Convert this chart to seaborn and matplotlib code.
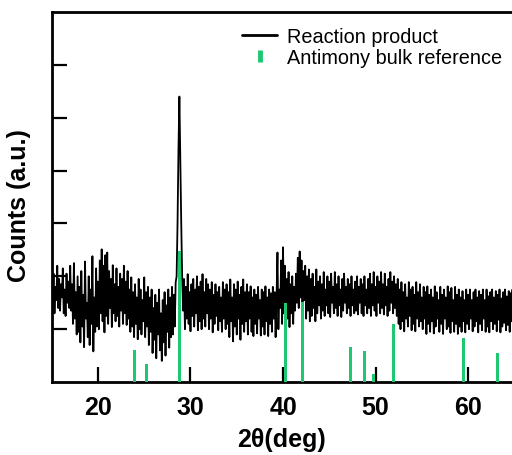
import numpy as np
import pandas as pd
import matplotlib
matplotlib.use("Agg")
import matplotlib.pyplot as plt
from matplotlib.lines import Line2D
import seaborn as sns

# ---------------- data ----------------
two_theta_start = 15.0
two_theta_step = 0.1
counts = [
    1.90, 1.45, 2.05, 1.30, 1.80, 1.55, 2.20, 1.40, 1.95, 1.35,   # 15
    1.85, 1.60, 2.15, 1.30, 1.75, 1.25, 2.05, 1.50, 1.90, 1.40,   # 16
    2.20, 1.35, 1.85, 1.10, 2.25, 1.20, 1.70, 0.90, 2.00, 0.95,   # 17
    1.80, 0.75, 2.10, 1.05, 1.65, 0.66, 2.28, 1.20, 1.50, 0.85,   # 18
    2.00, 0.70, 1.75, 1.10, 2.38, 0.58, 1.60, 0.95, 2.15, 1.05,   # 19
    1.90, 1.00, 2.30, 1.30, 2.51, 1.15, 2.20, 0.94, 2.40, 1.25,   # 20
    2.45, 1.10, 2.10, 1.40, 1.95, 1.04, 2.21, 1.30, 1.85, 1.15,   # 21
    2.15, 1.25, 1.80, 1.05, 2.05, 1.35, 1.95, 1.10, 2.20, 1.30,   # 22
    1.90, 1.08, 2.10, 1.20, 1.75, 0.95, 1.98, 1.05, 1.70, 0.85,   # 23
    1.85, 1.10, 1.60, 0.81, 1.95, 1.00, 1.75, 0.90, 1.55, 1.15,   # 24
    1.98, 0.85, 1.70, 1.05, 1.80, 0.70, 1.60, 0.95, 1.75, 0.55,   # 25
    1.40, 0.80, 1.65, 0.45, 1.50, 0.90, 1.75, 0.60, 1.30, 0.40,   # 26
    1.55, 0.75, 1.70, 0.50, 1.45, 0.95, 1.75, 0.65, 1.60, 0.85,   # 27
    1.80, 0.90, 1.65, 1.05, 1.89, 2.00, 3.00, 4.40, 5.40, 4.20,   # 28
    3.00, 2.00, 1.35, 1.95, 1.00, 1.80, 1.20, 2.04, 1.10, 1.70,   # 29
    0.96, 1.85, 1.25, 1.95, 1.05, 1.75, 1.30, 2.00, 0.98, 1.80,   # 30
    1.15, 1.90, 1.00, 2.04, 1.20, 1.70, 1.05, 1.95, 1.30, 1.85,   # 31
    1.00, 1.75, 1.20, 1.89, 0.94, 1.65, 1.10, 1.85, 1.25, 1.70,   # 32
    0.98, 1.80, 1.15, 1.60, 0.95, 1.89, 1.20, 1.75, 1.00, 1.85,   # 33
    1.10, 1.70, 0.85, 1.94, 1.15, 1.60, 0.77, 1.85, 1.05, 1.75,   # 34
    0.90, 1.90, 1.20, 1.65, 0.80, 1.80, 1.10, 1.94, 0.95, 1.70,   # 35
    1.15, 1.85, 0.90, 1.70, 1.20, 1.81, 0.95, 1.60, 0.87, 1.75,   # 36
    1.10, 1.65, 0.92, 1.80, 1.20, 1.55, 0.88, 1.75, 1.05, 1.70,   # 37
    0.90, 1.81, 1.15, 1.60, 0.87, 1.75, 1.10, 1.68, 0.95, 1.80,   # 38
    1.20, 1.70, 0.85, 1.60, 2.45, 1.00, 1.75, 1.40, 2.30, 1.10,   # 39
    2.55, 1.30, 2.20, 1.00, 1.95, 1.20, 2.08, 1.04, 1.85, 1.30,   # 40
    2.00, 1.10, 1.80, 1.35, 2.05, 1.50, 2.35, 1.40, 2.47, 1.60,   # 41
    2.30, 1.38, 2.10, 1.55, 2.20, 1.20, 2.00, 1.35, 2.13, 1.15,   # 42
    1.95, 1.25, 2.05, 1.40, 1.80, 1.15, 2.13, 1.30, 1.90, 1.45,   # 43
    2.00, 1.20, 1.85, 1.35, 2.08, 1.25, 1.75, 1.45, 2.00, 1.30,   # 44
    1.90, 1.23, 2.05, 1.50, 1.80, 1.30, 2.08, 1.40, 1.85, 1.25,   # 45
    2.00, 1.45, 1.75, 1.23, 1.95, 1.35, 2.05, 1.50, 1.80, 1.30,   # 46
    1.95, 1.40, 1.85, 1.25, 2.00, 1.45, 1.75, 1.30, 1.90, 1.35,   # 47
    2.00, 1.28, 1.80, 1.50, 1.95, 1.30, 1.85, 1.25, 2.00, 1.45,   # 48
    1.75, 1.30, 1.95, 1.40, 2.05, 1.25, 1.85, 1.45, 2.08, 1.35,   # 49
    1.80, 1.25, 2.00, 1.50, 1.90, 1.30, 2.08, 1.40, 1.85, 1.28,   # 50
    2.05, 1.45, 1.80, 1.25, 1.95, 1.35, 2.08, 1.50, 1.90, 1.30,   # 51
    2.00, 1.40, 1.85, 1.25, 1.95, 1.10, 1.75, 1.00, 1.89, 1.15,   # 52
    1.70, 0.96, 1.85, 1.20, 1.60, 1.05, 1.89, 1.25, 1.75, 0.98,   # 53
    1.80, 1.10, 1.65, 0.96, 1.89, 1.20, 1.70, 1.05, 1.85, 1.15,   # 54
    1.60, 1.00, 1.80, 1.20, 1.70, 0.91, 1.81, 1.10, 1.65, 0.95,   # 55
    1.75, 1.15, 1.60, 0.92, 1.81, 1.05, 1.70, 1.20, 1.55, 0.95,   # 56
    1.80, 1.10, 1.65, 0.91, 1.75, 1.20, 1.60, 1.00, 1.81, 1.05,   # 57
    1.70, 0.93, 1.78, 1.15, 1.55, 0.95, 1.80, 1.10, 1.65, 0.91,   # 58
    1.75, 1.05, 1.60, 0.95, 1.72, 1.15, 1.55, 0.94, 1.75, 1.10,   # 59
    1.65, 1.00, 1.75, 1.20, 1.55, 0.96, 1.70, 1.05, 1.75, 1.15,   # 60
    1.60, 0.94, 1.72, 1.10, 1.65, 0.98, 1.75, 1.20, 1.55, 0.95,   # 61
    1.75, 1.05, 1.62, 0.94, 1.70, 1.15, 1.75, 1.00, 1.60, 1.10,   # 62
    1.72, 0.96, 1.65, 1.18, 1.75, 0.94, 1.58, 1.05, 1.70, 1.12,   # 63
    1.75, 0.98, 1.62, 1.08, 1.72, 0.95, 1.68, 1.15, 1.75, 1.00,   # 64
]
two_theta = two_theta_start + two_theta_step * np.arange(len(counts))

ref_positions = [23.9, 25.25, 28.85, 40.3, 42.1, 47.3, 48.85, 49.75, 51.9, 59.5, 63.15]
ref_heights = [0.60, 0.35, 2.48, 1.49, 1.52, 0.67, 0.58, 0.16, 1.09, 0.83, 0.54]

x_ticks = [20, 30, 40, 50, 60]
y_ticks = [1, 2, 3, 4, 5, 6]

line_label = "Reaction product"
ref_label = "Antimony bulk reference"
GREEN = "#1DC870"

# ---------------- figure ----------------
sns.set_style("white")
plt.rcParams["font.family"] = ["Liberation Sans", "DejaVu Sans"]
plt.rcParams["text.color"] = "black"
plt.rcParams["axes.labelcolor"] = "black"
plt.rcParams["xtick.color"] = "black"
plt.rcParams["ytick.color"] = "black"

fig = plt.figure(figsize=(5.12, 4.56), dpi=100)
ax = fig.add_axes([0.101, 0.160, 0.899, 0.8115])

df = pd.DataFrame({"two_theta": two_theta, "counts": counts})
sns.lineplot(data=df, x="two_theta", y="counts", color="black", lw=1.3,
             ax=ax, zorder=2)

ax.bar(ref_positions, ref_heights, width=0.32, color=GREEN, zorder=3,
       linewidth=0)

ax.set_xlim(15, 64.75)
ax.set_ylim(0, 7)
ax.set_xticks(x_ticks)
ax.set_yticks(y_ticks)
ax.set_yticklabels([])
ax.tick_params(axis="both", direction="in", length=11, width=1.6,
               color="black", labelcolor="black",
               bottom=True, left=True, top=False, right=False)
ax.tick_params(axis="x", labelsize=18, pad=9)
for lab in ax.get_xticklabels():
    lab.set_fontweight("bold")

for side in ["left", "bottom", "top"]:
    ax.spines[side].set_visible(True)
    ax.spines[side].set_linewidth(2.0)
    ax.spines[side].set_color("black")
ax.spines["right"].set_visible(False)

ax.set_xlabel("2\u03b8(deg)", fontsize=18, fontweight="bold", labelpad=6,
              color="black")
ax.set_ylabel("Counts (a.u.)", fontsize=18, fontweight="bold", labelpad=8,
              color="black")
ax.yaxis.set_label_coords(-0.045, 0.48)

handles = [
    Line2D([], [], color="black", lw=2.0),
    Line2D([], [], color=GREEN, marker="|", linestyle="none",
           markersize=9, markeredgewidth=3.5),
]
leg = ax.legend(handles, [line_label, ref_label], loc="upper right",
                bbox_to_anchor=(0.9957, 0.982), frameon=False, fontsize=14.3,
                handlelength=1.76, handletextpad=0.5, labelspacing=0.12,
                borderaxespad=0.0)
for t in leg.get_texts():
    t.set_color("black")

fig.savefig("out.png", dpi=100)
